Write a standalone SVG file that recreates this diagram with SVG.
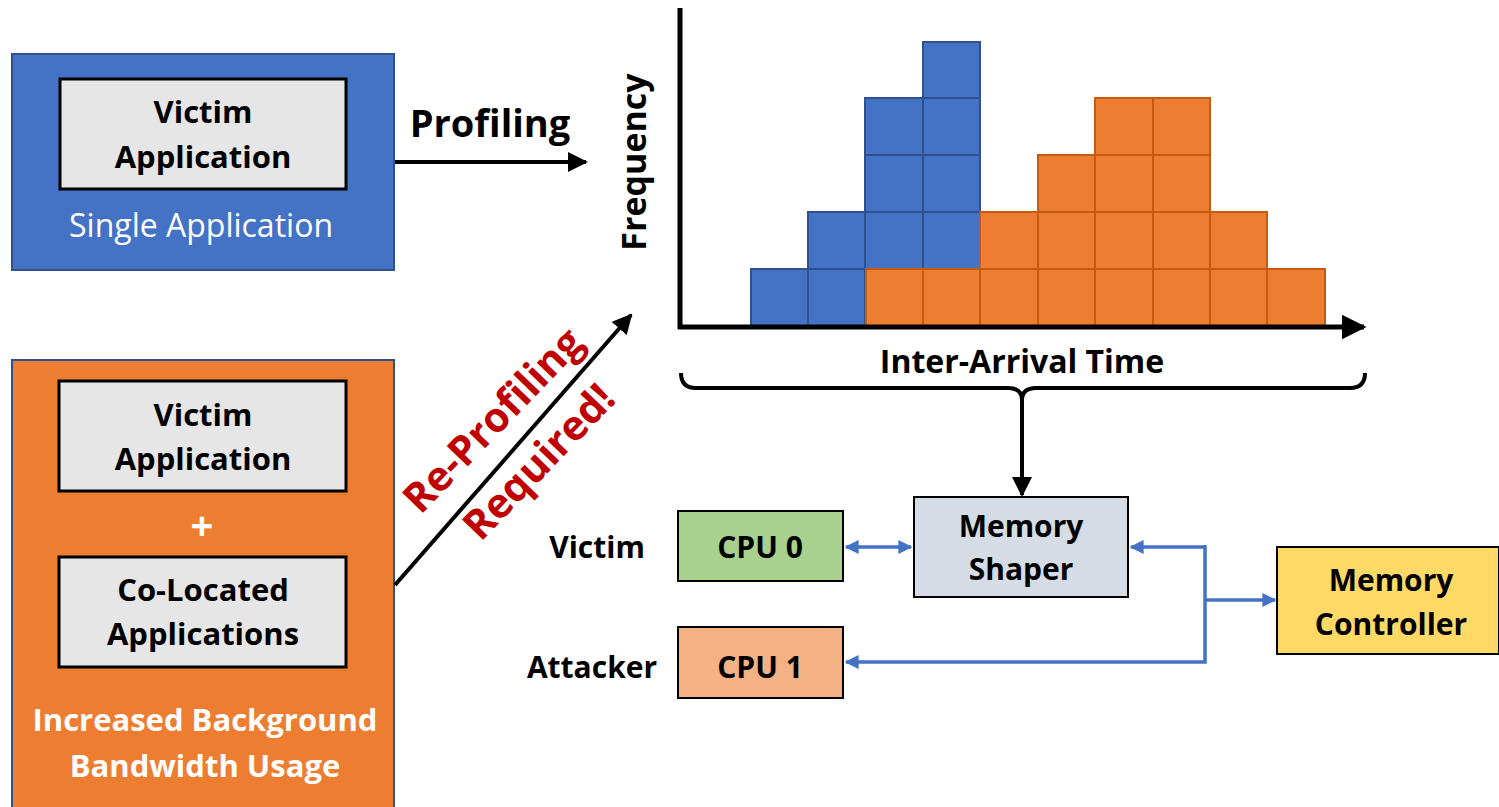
<svg xmlns="http://www.w3.org/2000/svg" width="1499" height="807" viewBox="0 0 1499 807">
<style>
text{font-family:"Open Sans","Liberation Sans",sans-serif;text-anchor:middle}
.b{font-weight:bold}
.inner{fill:#E7E6E6;stroke:#000;stroke-width:3}
.bc{fill:#4472C4;stroke:#2F528F;stroke-width:2}
.oc{fill:#ED7D31;stroke:#C55A11;stroke-width:2}
.blk{stroke:#000;stroke-width:4;fill:none}
.blu{stroke:#4472C4;stroke-width:3.5;fill:none}
</style>
<defs>
<marker id="ah" viewBox="0 0 10 10" refX="9" refY="5" markerWidth="5" markerHeight="5" orient="auto-start-reverse" markerUnits="strokeWidth"><path d="M0,0 L10,5 L0,10 z" fill="#000"/></marker>
<marker id="ab" viewBox="0 0 10 10" refX="9" refY="5" markerWidth="4" markerHeight="4" orient="auto-start-reverse" markerUnits="strokeWidth"><path d="M0,0 L10,5 L0,10 z" fill="#4472C4"/></marker>
</defs>
<rect width="1499" height="807" fill="#fff"/>

<g id="single">
<rect x="12" y="54" width="382" height="216" fill="#4472C4" stroke="#2F528F" stroke-width="2"/>
<rect class="inner" x="60" y="79" width="286" height="110"/>
<text class="b" x="203" y="123" font-size="31">Victim</text>
<text class="b" x="203" y="168" font-size="31">Application</text>
<text x="201" y="237" font-size="32" fill="#fff">Single Application</text>
</g>

<g id="multi">
<rect x="12" y="360" width="382" height="460" fill="#ED7D31" stroke="#2F528F" stroke-width="2"/>
<rect class="inner" x="59" y="381" width="287" height="110"/>
<text class="b" x="203" y="426" font-size="31">Victim</text>
<text class="b" x="203" y="470" font-size="31">Application</text>
<text class="b" x="202" y="540" font-size="40" fill="#fff">+</text>
<rect class="inner" x="59" y="557" width="287" height="110"/>
<text class="b" x="203" y="601" font-size="31">Co-Located</text>
<text class="b" x="203" y="645" font-size="31">Applications</text>
<text class="b" x="205" y="731" font-size="31" fill="#fff">Increased Background</text>
<text class="b" x="205" y="777" font-size="31" fill="#fff">Bandwidth Usage</text>
</g>

<g id="histogram">
<g id="blue-bars">
<rect class="bc" x="751" y="269" width="57" height="57"/>
<rect class="bc" x="808" y="269" width="57" height="57"/>
<rect class="bc" x="808" y="212" width="57" height="57"/>
<rect class="bc" x="865" y="212" width="58" height="57"/>
<rect class="bc" x="865" y="155" width="58" height="57"/>
<rect class="bc" x="865" y="98" width="58" height="57"/>
<rect class="bc" x="923" y="212" width="57" height="57"/>
<rect class="bc" x="923" y="155" width="57" height="57"/>
<rect class="bc" x="923" y="98" width="57" height="57"/>
<rect class="bc" x="923" y="42" width="57" height="56"/>
</g>
<g id="orange-bars">
<rect class="oc" x="866" y="269" width="57" height="57"/>
<rect class="oc" x="923" y="269" width="57" height="57"/>
<rect class="oc" x="980" y="269" width="58" height="57"/>
<rect class="oc" x="1038" y="269" width="57" height="57"/>
<rect class="oc" x="1095" y="269" width="58" height="57"/>
<rect class="oc" x="1153" y="269" width="57" height="57"/>
<rect class="oc" x="1210" y="269" width="57" height="57"/>
<rect class="oc" x="1267" y="269" width="58" height="57"/>
<rect class="oc" x="980" y="212" width="58" height="57"/>
<rect class="oc" x="1038" y="212" width="57" height="57"/>
<rect class="oc" x="1095" y="212" width="58" height="57"/>
<rect class="oc" x="1153" y="212" width="57" height="57"/>
<rect class="oc" x="1210" y="212" width="57" height="57"/>
<rect class="oc" x="1038" y="155" width="57" height="57"/>
<rect class="oc" x="1095" y="155" width="58" height="57"/>
<rect class="oc" x="1153" y="155" width="57" height="57"/>
<rect class="oc" x="1095" y="98" width="58" height="57"/>
<rect class="oc" x="1153" y="98" width="57" height="57"/>
</g>
<line x1="680" y1="8" x2="680" y2="329" stroke="#000" stroke-width="5"/>
<line x1="678" y1="327" x2="1364" y2="327" stroke="#000" stroke-width="5" marker-end="url(#ah)"/>
<text class="b" font-size="34" transform="translate(646,162) rotate(-90)">Frequency</text>
<text class="b" x="1022" y="373" font-size="32">Inter-Arrival Time</text>
<path class="blk" stroke-width="3" d="M681,373 Q681,388 696,388 L1008,388 Q1022,388 1022,400 Q1022,388 1036,388 L1350,388 Q1365,388 1365,373"/>
</g>

<g id="cpu0">
<rect x="678" y="511" width="165" height="70" fill="#A9D18E" stroke="#000" stroke-width="2"/>
<text class="b" x="760" y="558" font-size="30">CPU 0</text>
<text class="b" x="597" y="558" font-size="30">Victim</text>
</g>
<g id="cpu1">
<rect x="678" y="627" width="165" height="71" fill="#F4B183" stroke="#000" stroke-width="2"/>
<text class="b" x="760" y="678" font-size="30">CPU 1</text>
<text class="b" x="592" y="678" font-size="30">Attacker</text>
</g>
<g id="shaper">
<rect x="914" y="497" width="214" height="100" fill="#D6DCE5" stroke="#000" stroke-width="2"/>
<text class="b" x="1021" y="537" font-size="30">Memory</text>
<text class="b" x="1021" y="580" font-size="30">Shaper</text>
</g>
<g id="controller">
<rect x="1277" y="547" width="222" height="107" fill="#FFD966" stroke="#000" stroke-width="2"/>
<text class="b" x="1391" y="591" font-size="30">Memory</text>
<text class="b" x="1391" y="635" font-size="30">Controller</text>
</g>

<g id="connectors">
<line class="blk" x1="395" y1="162" x2="586" y2="162" marker-end="url(#ah)"/>
<text class="b" x="490" y="137" font-size="38">Profiling</text>
<line class="blk" x1="395" y1="585" x2="631" y2="315" marker-end="url(#ah)"/>
<line class="blk" x1="1022" y1="400" x2="1022" y2="495" marker-end="url(#ah)"/>
<line class="blu" x1="846" y1="547" x2="911" y2="547" marker-start="url(#ab)" marker-end="url(#ab)"/>
<path class="blu" d="M1205,547 H1131" marker-end="url(#ab)"/>
<path class="blu" d="M1205,545 V662 H846" marker-end="url(#ab)"/>
<path class="blu" d="M1205,600 H1275" marker-end="url(#ab)"/>
</g>

<g id="reprofiling-label" transform="translate(503,430) rotate(-46)" fill="#C00000">
<text class="b" x="0" y="0" font-size="41">Re-Profiling</text>
<text class="b" x="2" y="62" font-size="41">Required!</text>
</g>
</svg>
